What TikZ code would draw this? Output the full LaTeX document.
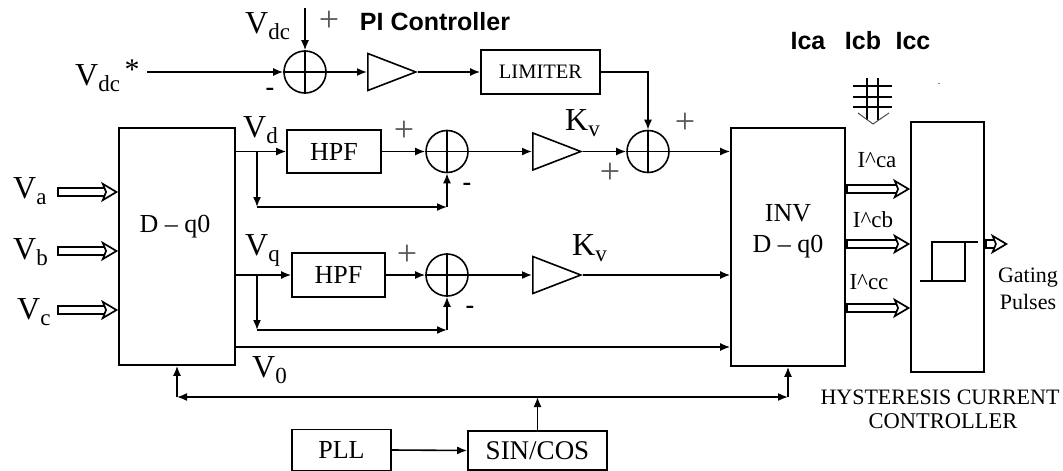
\documentclass[tikz,border=0pt]{standalone}
\usepackage{fontspec}
\setmainfont{Liberation Serif}
\newfontfamily\headfont{Liberation Sans}
\usetikzlibrary{calc,shapes,arrows.meta}

\newcommand{\fsz}[1]{\fontsize{#1}{#1}\selectfont}
\newcommand{\vlab}[2]{{\fsz{32}#1}\raisebox{-6pt}{\fsz{23}#2}}

\tikzset{
  >={Latex[length=10pt,width=8pt]},
  block/.style={draw,line width=1.7pt,inner sep=0pt,font=\fsz{26}},
  sumnode/.style={draw,circle,line width=1.6pt,minimum size=42pt,inner sep=0pt},
  amp/.style={draw,line width=1.6pt,isosceles triangle,isosceles triangle stretches,
    minimum width=37pt,minimum height=48pt,inner sep=0pt,anchor=lower side},
  lab/.style={inner sep=0pt,anchor=base west},
  txt/.style={inner sep=0pt,align=center},
  sign/.style={inner sep=0pt,font=\fsz{36},text=black!65},
  conn/.style={line width=1.6pt,->},
  hollow/.style={line width=1.7pt,double,double distance=6pt,
    {Bar[width=9.5pt]}-{Stealth[open,length=17pt,width=20pt,inset=4pt,fill=white]}}
}

\begin{document}
\begin{tikzpicture}[x=1pt,y=-1pt]
  \useasboundingbox (0,0) rectangle (1063,471);

  %% Building the blocks
  \node[block,minimum width=116pt,minimum height=237pt] (DQ)  at (177,246.5) {};
  \node[block,minimum width=114pt,minimum height=238pt] (INV) at (788,247)   {};
  \node[block,minimum width=73pt, minimum height=250pt] (HYS) at (947.5,247) {};
  \node[block,minimum width=94pt, minimum height=43pt]  (HPFd) at (334,151.5) {HPF};
  \node[block,minimum width=93pt, minimum height=44pt]  (HPFq) at (338.5,275) {HPF};
  \node[block,minimum width=119pt,minimum height=44pt,font=\fsz{20.5}] (LIM) at (540.5,72) {LIMITER};
  \node[block,minimum width=99pt, minimum height=41pt]  (PLL) at (341.5,450) {PLL};
  \node[block,minimum width=139pt,minimum height=39pt,font=\fsz{27}] (SIN) at (537.5,450.5) {SIN/COS};

  \node[txt,font=\fsz{26}] (DQtext) at (175,227) {D -- q0};
  \node[txt,font=\fsz{26}] (INVtext) at (788,213) {INV};
  \node[txt,font=\fsz{26}] (INVdq) at (788,247) {D -- q0};

  %% Summing junctions and gains
  \foreach \name/\x/\y in {Sdc/305/72,Sd/447/151.5,Sm/648/151.5,Sq/447/275}
  {
    \node[sumnode] (\name) at (\x,\y) {};
    \draw[line width=1.3pt] (\name.north) -- (\name.south);
    \draw[line width=1.3pt] (\name.west) -- (\name.east);
  }
  \node[amp] (Adc) at (367,72) {};
  \node[amp] (Ad)  at (532,151.5) {};
  \node[amp] (Aq)  at (532,275) {};

  %% DC loop
  \coordinate (DCin) at (147,72);
  \coordinate (DCtop) at (305,8);
  \draw[conn] (DCin) -- (Sdc.west);
  \draw[conn] (DCtop) -- (Sdc.north);
  \draw[conn] (Sdc.east) -- (Adc.lower side);
  \draw[conn] (Adc.apex) -- (LIM.west);
  \draw[conn] (LIM.east) -| (Sm.north);

  %% Vd path
  \coordinate (Bd) at (257,151.5);
  \coordinate (Rd) at (257,207);
  \draw[conn] (DQ.east|-HPFd.west) -- (HPFd.west);
  \draw[conn] (Bd) -- (Rd);
  \draw[conn] (Rd) -- (Rd-|Sd.south);
  \draw[conn] (Rd-|Sd.south) -- (Sd.south);
  \draw[conn] (HPFd.east) -- (Sd.west);
  \draw[conn] (Sd.east) -- (Ad.lower side);
  \draw[conn] (Ad.apex) -- (Sm.west);
  \draw[conn] (Sm.east) -- (Sm.east-|INV.west);

  %% Vq path
  \coordinate (Bq) at (257,275);
  \coordinate (Rq) at (257,330);
  \draw[conn] (DQ.east|-HPFq.west) -- (HPFq.west);
  \draw[conn] (Bq) -- (Rq);
  \draw[conn] (Rq) -- (Rq-|Sq.south);
  \draw[conn] (Rq-|Sq.south) -- (Sq.south);
  \draw[conn] (HPFq.east) -- (Sq.west);
  \draw[conn] (Sq.east) -- (Aq.lower side);
  \draw[conn] (Aq.apex) -- (Aq.apex-|INV.west);

  %% V0 and the sin/cos bus
  \coordinate (Zero) at (235,347);
  \draw[conn] (Zero) -- (Zero-|INV.west);
  \coordinate (BusL) at (177,397);
  \coordinate (BusR) at (788,397);
  \draw[conn,<->] (BusL) -- (BusR);
  \draw[conn] (BusL) -- (BusL|-DQ.south);
  \draw[conn] (BusR) -- (BusR|-INV.south);
  \draw[conn] (PLL.east) -- (SIN.west);
  \draw[conn] (SIN.north) -- (SIN.north|-BusL);

  %% Hollow arrows
  \foreach \name/\y in {Ia/192,Ib/251,Ic/310}
  {
    \coordinate (\name) at (57,\y);
    \draw[hollow] (\name) -- (\name-|DQ.west);
  }
  \foreach \name/\y in {Oa/189,Ob/244,Oc/308}
  {
    \coordinate (\name) at (846,\y);
    \draw[hollow] (\name) -- (\name-|HYS.west);
  }
  \coordinate (Gate) at (1008,244);
  \draw[hollow] (Gate-|HYS.east) -- (Gate);

  %% Hysteresis loop
  \draw[line width=1.6pt] (920,281) -- (965,281) -- (965,242) -- (978,242);
  \draw[line width=1.6pt] (932,281) -- (932,242) -- (965,242);

  %% Current bus symbol
  \foreach \y in {86,97,107}
    \draw[line width=1.3pt] (853,\y) -- (892,\y);
  \foreach \x in {867,878}
    \draw[line width=1.3pt] (\x,78) -- (\x,120);
  \draw[line width=1pt,black!70] (858,113) -- (873,124) -- (889,113);

  %% Labels
  \node[lab] (Lstar) at (75,85) {\vlab{V}{dc}};
  \node[inner sep=0pt,font=\fsz{30}] (Lmark) at (132,70) {*};
  \node[lab] (Ldc) at (245,33) {\vlab{V}{dc}};
  \node[lab] (Ld)  at (243,137) {\vlab{V}{d}};
  \node[lab] (Lq)  at (245,255) {\vlab{V}{q}};
  \node[lab] (Lz)  at (252,377) {\vlab{V}{0}};
  \node[lab] (La)  at (13,198) {\vlab{V}{a}};
  \node[lab] (Lb)  at (13,259) {\vlab{V}{b}};
  \node[lab] (Lc)  at (17,319) {\vlab{V}{c}};
  \node[lab] (Kd)  at (565,130) {\vlab{K}{v}};
  \node[lab] (Kq)  at (572,255) {\vlab{K}{v}};

  \node[txt,font=\headfont\bfseries\fsz{25}] (PI) at (435,22) {PI Controller};
  \foreach \name/\x/\t in {Ica/808/Ica,Icb/863/Icb,Icc/913/Icc}
    \node[txt,font=\headfont\bfseries\fsz{25}] (\name) at (\x,41) {\t};
  \node[txt] (Dot) at (939,84) {.};

  \foreach \name/\x/\y/\t in {Ra/877/160/ca,Rb/873/220/cb,Rc/869/282/cc}
    \node[txt,font=\fsz{23}] (\name) at (\x,\y) {I\textasciicircum\t};
  \node[txt,font=\fsz{22}] (Gating) at (1028,278) {Gating};
  \node[txt,font=\fsz{22}] (Pulses) at (1028,302) {Pulses};
  \node[txt,font=\fsz{22}] (Hname) at (940,397) {HYSTERESIS CURRENT};
  \node[txt,font=\fsz{22.5}] (Cname) at (943,421) {CONTROLLER};

  %% Signs
  \foreach \name/\x/\y in {Pa/329/21,Pb/404/131,Pc/685/123,Pd/610/173,Pe/407/255}
    \node[sign] (\name) at (\x,\y) {+};
  \foreach \name/\x/\y in {Ma/270/92,Mb/467/187,Mc/470/310}
    \node[inner sep=0pt,font=\bfseries\fsz{26}] (\name) at (\x,\y) {-};

\end{tikzpicture}
\end{document}
